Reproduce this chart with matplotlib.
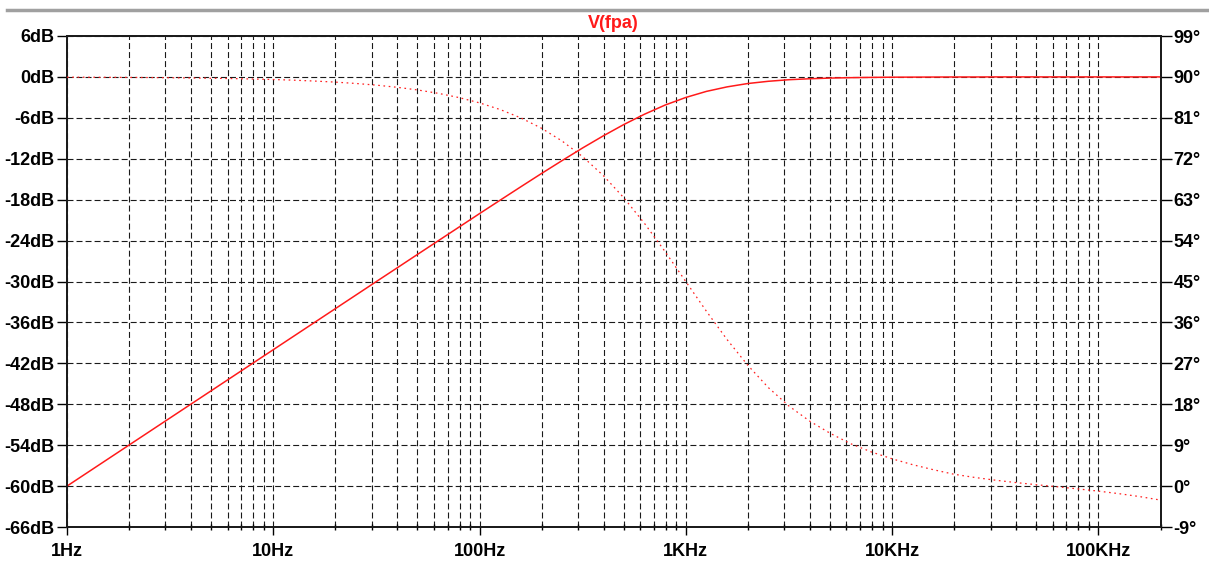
import matplotlib
matplotlib.use("Agg")
import matplotlib.pyplot as plt
from matplotlib.lines import Line2D
from matplotlib.ticker import FixedLocator, LogLocator, NullFormatter

plt.rcParams['font.family'] = ['Liberation Sans', 'DejaVu Sans']
plt.rcParams['lines.scale_dashes'] = False

# sweep points, 10 per decade
freq_hz = [1, 1.259, 1.585, 1.995, 2.512, 3.162, 3.981, 5.012, 6.310, 7.943,
           10, 12.59, 15.85, 19.95, 25.12, 31.62, 39.81, 50.12, 63.10, 79.43,
           100, 125.9, 158.5, 199.5, 251.2, 316.2, 398.1, 501.2, 631.0, 794.3,
           1000, 1259, 1585, 1995, 2512, 3162, 3981, 5012, 6310, 7943,
           10000, 12589, 15849, 19953, 25119, 31623, 39811, 50119, 63096, 79433,
           100000, 125893, 158489, 199526]
mag_db = [-60.0, -58.0, -56.0, -54.0, -52.0, -50.0, -48.0, -46.0, -44.0, -42.0,
          -40.0, -38.0, -36.0, -34.0, -32.0, -30.0, -28.01, -26.01, -24.02, -22.03,
          -20.04, -18.07, -16.11, -14.17, -12.27, -10.41, -8.64, -6.97, -5.46, -4.12,
          -3.01, -2.12, -1.46, -0.97, -0.64, -0.41, -0.27, -0.17, -0.11, -0.07,
          -0.04, -0.03, -0.02, -0.01, -0.01, 0, 0, 0, 0, 0,
          0, 0, 0, 0]
phase_deg = [89.94, 89.93, 89.91, 89.89, 89.86, 89.82, 89.77, 89.71, 89.64, 89.54,
             89.43, 89.28, 89.09, 88.86, 88.56, 88.19, 87.72, 87.13, 86.39, 85.46,
             84.29, 82.82, 80.99, 78.72, 75.90, 72.45, 68.30, 63.38, 57.75, 51.54,
             44.98, 38.44, 32.22, 26.59, 21.66, 17.60, 14.30, 11.60, 9.30, 7.50,
             6.00, 4.70, 3.60, 2.60, 1.90, 1.30, 0.77, 0.30, -0.15, -0.62,
             -1.11, -1.67, -2.31, -3.07]

db_ticks = list(range(6, -67, -6))
db_labels = ["%ddB" % v for v in db_ticks]
deg_ticks = list(range(99, -10, -9))
deg_labels = ["%d\u00b0" % v for v in deg_ticks]
freq_ticks = [1, 10, 100, 1e3, 1e4, 1e5]
freq_labels = ["1Hz", "10Hz", "100Hz", "1KHz", "10KHz", "100KHz"]

W, H = 1209, 562
fig = plt.figure(figsize=(W / 100, H / 100), dpi=100)
ax = fig.add_axes([67 / W, 1 - 527 / H, (1160.5 - 67) / W, (527 - 36) / H])
ax.set_xscale('log')
ax.set_xlim(1, 2e5)
ax.set_ylim(-66, 6)

grid_kw = dict(color='#1a1a1a', linewidth=0.8, linestyle=(0, (4.3, 2.2)))
ax.xaxis.set_major_locator(FixedLocator(freq_ticks))
ax.xaxis.set_minor_locator(LogLocator(base=10, subs=range(2, 10), numticks=20))
ax.xaxis.set_minor_formatter(NullFormatter())
ax.set_xticks(freq_ticks)
ax.set_xticklabels(freq_labels, fontweight='bold', fontsize=13)
ax.set_yticks(db_ticks)
ax.set_yticklabels(db_labels, fontweight='bold', fontsize=13)
ax.grid(True, which='both', axis='x', **grid_kw)
ax.grid(True, which='major', axis='y', **grid_kw)

ax.tick_params(axis='y', which='major', direction='out', length=7.5, width=1, pad=1.5)
ax.tick_params(axis='x', which='major', direction='out', length=6, width=1, pad=5.8)
ax.tick_params(axis='x', which='minor', direction='inout', length=5, width=1)
for sp in ax.spines.values():
    sp.set_linewidth(1.3)
    sp.set_color('#1a1a1a')

ax.plot(freq_hz, mag_db, color='#ff1a1a', linewidth=1.1, zorder=5)

# phase on the right-hand axis
ax2 = ax.twinx()
ax2.set_ylim(-9, 99)
ax2.set_yticks(deg_ticks)
ax2.set_yticklabels(deg_labels, fontweight='bold', fontsize=13)
ax2.tick_params(axis='y', direction='out', length=7.9, width=1, pad=1.5)
for sp in ax2.spines.values():
    sp.set_linewidth(1.3)
    sp.set_color('#1a1a1a')
ax2.plot(freq_hz, phase_deg, color='#ff2020', linewidth=0.9,
         linestyle=(0, (1.2, 2.6)), zorder=5)

fig.text(613 / W, 1 - 23 / H, "V(fpa)", color='#ff1a1a', fontweight='bold',
         fontsize=13, ha='center', va='center')

# window border strip across the top
fig.add_artist(Line2D([7 / W, 1], [1 - 10 / H] * 2, color='#a0a0a0', linewidth=2.5))

fig.savefig("out.png", dpi=100)
